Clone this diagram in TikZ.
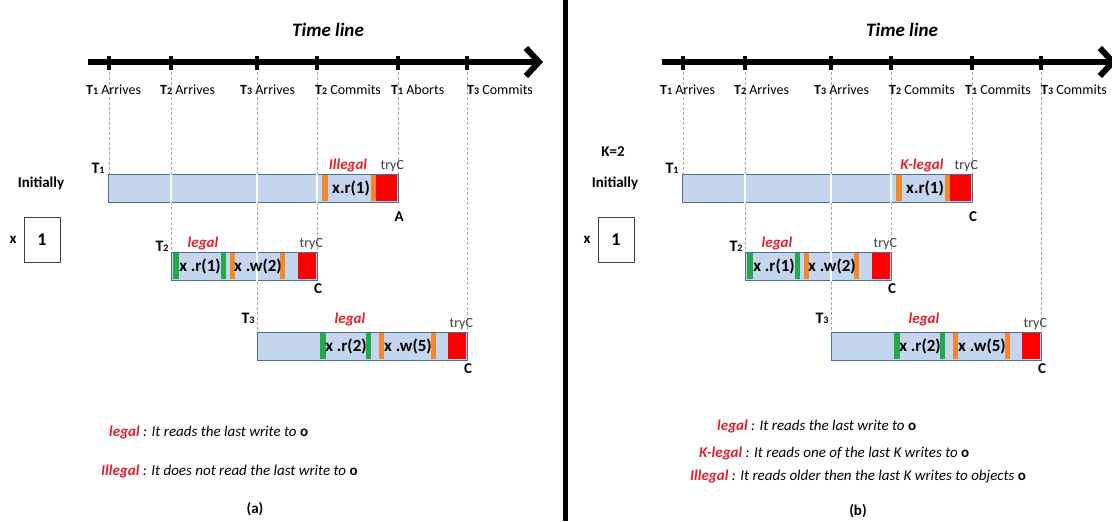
\documentclass[tikz,border=0pt]{standalone}
\usepackage{fontspec}
\setmainfont{Carlito}
\usepackage{xcolor}
\usetikzlibrary{arrows.meta, positioning}

\definecolor{barblue}{HTML}{C5D5EE}
\definecolor{barline}{HTML}{4A6E9A}
\definecolor{opgreen}{HTML}{22A94A}
\definecolor{oporange}{HTML}{F5862A}
\definecolor{legalred}{HTML}{E41E2B}
\definecolor{guidegray}{HTML}{A8A8A8}

% transaction name: bold T with a small index
\newcommand{\tx}[1]{\textbf{T}{\fontsize{10}{10}\selectfont\bfseries #1}}
% red verdict word and the object o in the notes
\newcommand{\lgl}[1]{{\color{legalred}\bfseries #1}}
\newcommand{\theobj}{\textbf{\upshape o}}

% one time line with the three transactions
% #1: last event of T1, #2: verdict on T1's read, #3: letter under T1
\newcommand{\txnpanel}[3]{%
  \node[heading] (head) at (328,30) {Time line};

  % ticks on the time line
  \coordinate (k1) at (109,62);
  \coordinate (k2) at (171,62);
  \coordinate (k3) at (257,62);
  \coordinate (k4) at (317,62);
  \coordinate (k5) at (398,62);
  \coordinate (k6) at (467,62);

  % transactions
  \node[txbar, minimum width=290pt] (t1) at (108,174) {};
  \node[txbar, minimum width=146pt] (t2) at (171,252) {};
  \node[txbar, minimum width=210pt] (t3) at (257,332) {};

  % dashed guides from the ticks down to the bars
  \begin{pgfonlayer}{background}
  \draw[guide] (k1) -- (k1 |- t1.north);
  \draw[guide] (k2) -- (k2 |- t2.north);
  \draw[guide] (k3) -- (k3 |- t3.north);
  \draw[guide] (k4) -- (k4 |- t2.south);
  \draw[guide] (k5) -- (k5 |- t1.south);
  \draw[guide] (k6) -- (k6 |- t3.north);
  \end{pgfonlayer}
  \draw[gap] (k2 |- t1.north) -- (k2 |- t1.south);
  \draw[gap] (k3 |- t1.north) -- (k3 |- t1.south);
  \draw[gap] (k3 |- t2.north) -- (k3 |- t2.south);
  \draw[gap] (k4 |- t1.north) -- (k4 |- t1.south);

  \draw[timeaxis] (88,62) -- (543,62);
  \draw[tickmark] (k1) ++(0,-6) -- ++(0,14);
  \draw[tickmark] (k2) ++(0,-6) -- ++(0,14);
  \draw[tickmark] (k3) ++(0,-6) -- ++(0,14);
  \draw[tickmark] (k4) ++(0,-6) -- ++(0,14);
  \draw[tickmark] (k5) ++(0,-6) -- ++(0,14);
  \draw[tickmark] (k6) ++(0,-6) -- ++(0,14);

  \node[event] (e1) at (86,90) {\tx1 Arrives};
  \node[event] (e2) at (160,90) {\tx2 Arrives};
  \node[event] (e3) at (240,90) {\tx3 Arrives};
  \node[event] (e4) at (315,90) {\tx2 Commits};
  \node[event] (e5) at (391,90) {\tx1 #1};
  \node[event] (e6) at (467,90) {\tx3 Commits};

  % reads (green), writes (orange) and tryC (red)
  \fill[oporange] (322,175) rectangle (328,201);
  \fill[oporange] (371,175) rectangle (376,201);
  \fill[red] (376,175) rectangle (397.4,201);
  \fill[opgreen] (173,253) rectangle (179,279);
  \fill[opgreen] (221,253) rectangle (226,279);
  \fill[oporange] (230,253) rectangle (235,279);
  \fill[oporange] (280,253) rectangle (285,279);
  \fill[red] (298,253) rectangle (316.4,279);
  \fill[opgreen] (320,333) rectangle (326,359);
  \fill[opgreen] (366,333) rectangle (371,359);
  \fill[oporange] (379,333) rectangle (384,359);
  \fill[oporange] (431,333) rectangle (436,359);
  \fill[red] (448,333) rectangle (466.4,359);

  \node[optext] (r1) at (351,188) {x.r(1)};
  \node[optext] (r2) at (200,266) {x .r(1)};
  \node[optext] (w2) at (258,266) {x .w(2)};
  \node[optext] (r3) at (346,346) {x .r(2)};
  \node[optext] (w3) at (408,346) {x .w(5)};

  \node[txname] (n1) at (98,168) {\tx1};
  \node[txname] (n2) at (162,246) {\tx2};
  \node[txname] (n3) at (248,318) {\tx3};
  \node[verdict] (v1) at (348,165) {#2};
  \node[verdict] (v2) at (203,243) {legal};
  \node[verdict] (v3) at (350,319) {legal};
  \node[tryc, above left=2pt and -5pt of t1.north east] (c1) {tryC};
  \node[tryc, above left=2pt and -5pt of t2.north east] (c2) {tryC};
  \node[tryc, above left=2pt and -5pt of t3.north east] (c3) {tryC};
  \node[ending, below=8pt of t1.south east] (f1) {#3};
  \node[ending, below=2pt of t2.south east] (f2) {C};
  \node[ending, below=2pt of t3.south east] (f3) {C};

  % the object and its first value
  \node[plain] (init) at (41,183) {Initially};
  \node[plain] (xname) at (13,240) {x};
  \node[valbox] (xval) at (42,240) {1};
}

\begin{document}
\begin{tikzpicture}[x=1pt, y=-1pt,
  heading/.style={font=\fontsize{19}{19}\selectfont\bfseries\itshape},
  timeaxis/.style={line width=6pt, -{Straight Barb[length=13pt, width=28pt, line width=6pt]}},
  tickmark/.style={line width=3.5pt},
  guide/.style={guidegray, dash pattern=on 3pt off 2pt, line width=0.7pt},
  gap/.style={white, line width=1.3pt},
  txbar/.style={draw=barline, fill=barblue, line width=1.2pt, minimum height=28pt,
    inner sep=0pt, anchor=north west},
  event/.style={anchor=west, inner sep=0pt, font=\fontsize{14}{14}\selectfont},
  optext/.style={inner sep=0pt, font=\fontsize{17}{17}\selectfont\bfseries},
  txname/.style={inner sep=0pt, font=\fontsize{16}{16}\selectfont},
  verdict/.style={inner sep=0pt, text=legalred, font=\fontsize{15}{15}\selectfont\bfseries\itshape},
  tryc/.style={inner sep=0pt, text=black!75, font=\fontsize{14}{14}\selectfont},
  ending/.style={inner sep=0pt, font=\fontsize{15}{15}\selectfont\bfseries},
  plain/.style={inner sep=0pt, font=\fontsize{15}{15}\selectfont\bfseries},
  valbox/.style={draw=black!75, line width=1pt, minimum width=36pt, minimum height=45pt,
    font=\fontsize{18}{18}\selectfont\bfseries},
  note/.style={anchor=west, inner sep=0pt, font=\fontsize{15}{15}\selectfont\itshape}
]
\pgfdeclarelayer{background}
\pgfsetlayers{background,main}
\useasboundingbox (0,0) rectangle (1112,522);

% (a) plain opacity
\begin{scope}[name prefix=a-]
  \txnpanel{Aborts}{Illegal}{A}
\end{scope}
\node[note] (a-note1) at (109,432) {\lgl{legal} : It reads the last write to \theobj};
\node[note] (a-note2) at (101,471) {\lgl{Illegal} : It does not read the last write to \theobj};
\node[plain] (a-cap) at (255,509) {(a)};

\draw[line width=5pt] (565,0) -- (565,521);

% (b) k-opacity with K=2
\begin{scope}[xshift=574pt, name prefix=b-]
  \txnpanel{Commits}{K-legal}{C}
\end{scope}
\node[plain] (b-k) at (613,152) {K=2};
\node[note] (b-note1) at (717,426) {\lgl{legal} : It reads the last write to \theobj};
\node[note] (b-note2) at (699,453) {\lgl{K-legal} : It reads one of the last K writes to \theobj};
\node[note] (b-note3) at (690,477) {\lgl{Illegal} : It reads older then the last K writes to objects \theobj};
\node[plain] (b-cap) at (858,511) {(b)};
\end{tikzpicture}
\end{document}
